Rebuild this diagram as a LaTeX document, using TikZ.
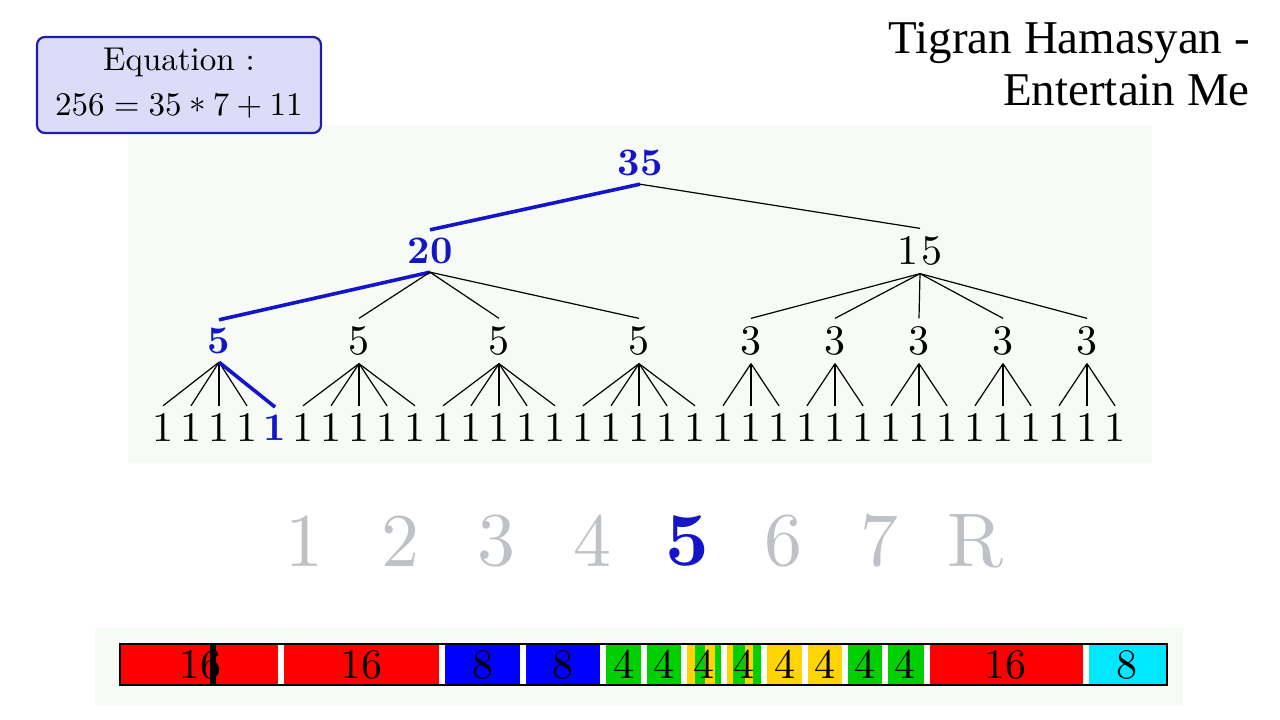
\documentclass[tikz,border=0pt]{standalone}
\usepackage{fontspec}
\setmainfont{lmroman10}[Extension=.otf,UprightFont=*-regular,BoldFont=*-bold]
\newfontfamily\titlefont{Liberation Serif}
\definecolor{hlblue}{RGB}{20,20,200}
\definecolor{boxfill}{RGB}{220,220,248}
\definecolor{boxline}{RGB}{30,30,170}
\definecolor{panel}{RGB}{247,251,245}
\definecolor{dimgray}{RGB}{190,194,198}
\definecolor{barred}{RGB}{255,0,0}
\definecolor{barblue}{RGB}{0,0,255}
\definecolor{bargreen}{RGB}{0,208,0}
\definecolor{baryellow}{RGB}{255,212,0}
\definecolor{barcyan}{RGB}{0,232,255}
\newcommand{\opstar}{\raisebox{-0.22em}{*}}

\begin{document}
\begin{tikzpicture}[x=1pt,y=-1pt,
    num/.style={font=\fontsize{42}{44}\selectfont,inner sep=8pt},
    hl/.style={text=hlblue,font=\fontsize{39}{42}\selectfont\bfseries},
    link/.style={line width=1.2pt},
    hllink/.style={hlblue,line width=3.6pt},
    track/.style={text=dimgray,font=\fontsize{76}{80}\selectfont},
    seg/.style={minimum height=41pt,inner sep=0pt,font=\fontsize{42}{44}\selectfont}]
  \useasboundingbox (0,0) rectangle (1280,720);
  \fill[white] (0,0) rectangle (1280,720);
  \fill[panel] (128,125) rectangle (1152,463);
  \fill[panel] (95,628) rectangle (1183,705);

  % header
  \node[draw=boxline,fill=boxfill,line width=2.2pt,rounded corners=8pt,
        minimum width=284pt,minimum height=96pt,align=center,
        font=\fontsize{33}{45}\selectfont]
    (eq) at (179,85) {Equation :\\256\;=\;35\:\opstar\:7\:+\:11};
  \node[anchor=east,align=right,inner sep=0pt,
        font=\titlefont\fontsize{47}{52}\selectfont]
    (title) at (1250,64) {Tigran Hamasyan -\\Entertain Me};

  % tree
  \node[num,hl] (root) at (640,163) {35};
  \node[num,hl] (n20) at (430,251) {20};
  \node[num] (n15) at (920,251) {1\kern3pt 5};
  \node[num,hl] (f1) at (219,341) {5};
  \foreach \k/\x in {2/359,3/499,4/639}
    \node[num] (f\k) at (\x,341) {5};
  \foreach \k/\x in {1/751,2/835,3/919,4/1003,5/1087}
    \node[num] (t\k) at (\x,341) {3};
  \foreach \i in {0,...,3,5,6,...,34}
    \node[num] (l\i) at ({163+28*\i},428) {1};
  \node[num,hl] (l4) at (275,428) {1};

  \draw[hllink] (root.south) -- (n20.north);
  \draw[link] (root.south) -- (n15.north);
  \draw[hllink] (n20.south) -- (f1.north);
  \foreach \k in {2,3,4} \draw[link] (n20.south) -- (f\k.north);
  \foreach \k in {1,...,5} \draw[link] (n15.south) -- (t\k.north);
  \foreach \k in {1,...,4}
    \foreach \j in {0,...,4} {
      \pgfmathtruncatemacro\c{5*(\k-1)+\j}
      \draw[link] (f\k.south) -- (l\c.north);
    }
  \foreach \k in {1,...,5}
    \foreach \j in {0,1,2} {
      \pgfmathtruncatemacro\c{20+3*(\k-1)+\j}
      \draw[link] (t\k.south) -- (l\c.north);
    }
  \draw[hllink] (f1.south) -- (l4.north);

  % sections
  \foreach \k/\x/\t in {1/304/1,2/400/2,3/496/3,4/592/4,6/783/6,7/879/7,8/975/R}
    \node[track] (s\k) at (\x,541) {\t};
  \node[track,text=hlblue,font=\fontsize{76}{80}\selectfont\bfseries] (s5) at (687,541) {5};

  % bar
  \fill[baryellow] (684,644) rectangle (764,685);
  \foreach \a/\b in {695/705,715/722,733/745,753/764}
    \fill[bargreen] (\a,644) rectangle (\b,685);
  \node[seg,fill=barred,minimum width=161pt] (b1) at (200.5,664.5) {16};
  \node[seg,fill=barred,minimum width=161pt] (b2) at (361.5,664.5) {16};
  \node[seg,fill=barblue,minimum width=81pt] (b3) at (482.5,664.5) {8};
  \node[seg,fill=barblue,minimum width=80pt] (b4) at (563,664.5) {8};
  \node[seg,fill=bargreen,minimum width=41pt] (b5) at (623.5,664.5) {4};
  \node[seg,fill=bargreen,minimum width=40pt] (b6) at (664,664.5) {4};
  \node[seg,minimum width=40pt] (b7) at (704,664.5) {4};
  \node[seg,minimum width=40pt] (b8) at (744,664.5) {4};
  \node[seg,fill=baryellow,minimum width=41pt] (b9) at (784.5,664.5) {4};
  \node[seg,fill=baryellow,minimum width=40pt] (b10) at (825,664.5) {4};
  \node[seg,fill=bargreen,minimum width=40pt] (b11) at (865,664.5) {4};
  \node[seg,fill=bargreen,minimum width=40pt] (b12) at (905,664.5) {4};
  \node[seg,fill=barred,minimum width=161pt] (b13) at (1005.5,664.5) {16};
  \node[seg,fill=barcyan,minimum width=81pt] (b14) at (1126.5,664.5) {8};
  \foreach \x in {281,442,523,603,644,684,724,764,805,845,885,927,1086}
    \draw[white,line width=6pt] (\x,644) -- (\x,685);
  \draw[line width=1.3pt] (120,644) rectangle (1167,685);
  \draw[line width=6pt] (213,643) -- (213,686);
\end{tikzpicture}
\end{document}
